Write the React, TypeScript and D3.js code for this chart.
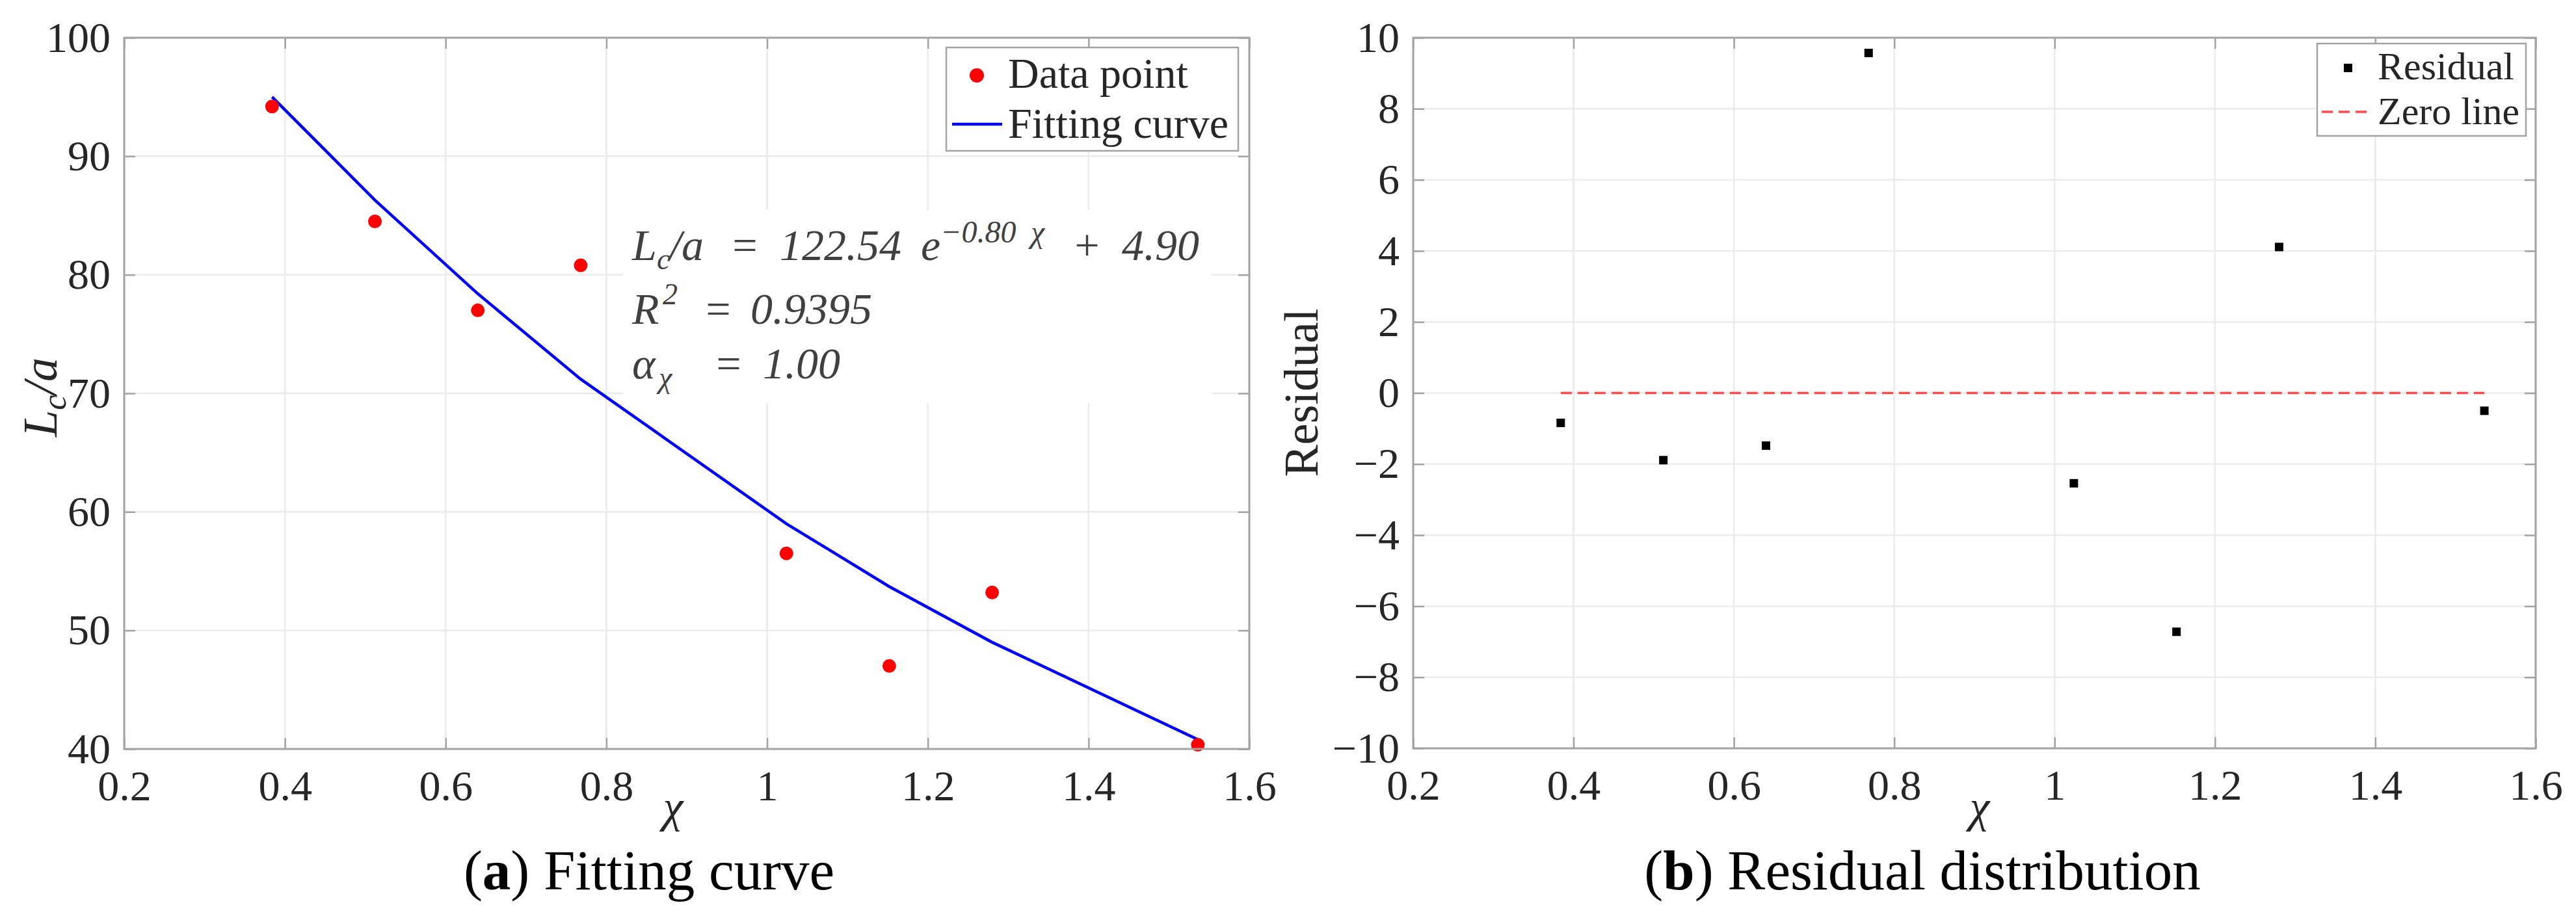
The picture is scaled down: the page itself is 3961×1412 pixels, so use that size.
import { useEffect, useRef } from 'react';
import {
  axisBottom,
  axisLeft,
  axisRight,
  axisTop,
  line,
  scaleLinear,
  select,
  Selection,
} from 'd3';

// chi values of the eight specimens
const chi = [0.384, 0.512, 0.64, 0.768, 1.024, 1.152, 1.28, 1.536];
// measured Lc/a
const lcOverA = [94.2, 84.5, 77.0, 80.8, 56.5, 47.0, 53.2, 40.35];
// fitted Lc/a
const fitted = [95.0, 86.3, 78.4, 71.2, 59.0, 53.7, 49.0, 40.8];
// residuals (panel b)
const residuals = [-0.84, -1.89, -1.48, 9.57, -2.54, -6.72, 4.11, -0.5];

const xTicks = [0.2, 0.4, 0.6, 0.8, 1, 1.2, 1.4, 1.6];
const yTicksA = [40, 50, 60, 70, 80, 90, 100];
const yTicksB = [-10, -8, -6, -4, -2, 0, 2, 4, 6, 8, 10];

const W = 3961;
const H = 1412;
const SERIF = 'Liberation Serif, Times New Roman, serif';
const TEXT = '#262626';
const FRAME = '#a3a3a3';
const GRID = '#ebebeb';

type G = Selection<SVGGElement, unknown, null, undefined>;

function drawFrame(
  g: G,
  x: d3.ScaleLinear<number, number>,
  y: d3.ScaleLinear<number, number>,
  yTicks: number[]
) {
  const [x0, x1] = x.range();
  const [y1, y0] = y.range();
  const inner = xTicks.slice(1, -1);
  const innerY = yTicks.slice(1, -1);

  // grid
  g.append('g')
    .selectAll('line')
    .data(inner)
    .join('line')
    .attr('x1', (d) => x(d))
    .attr('x2', (d) => x(d))
    .attr('y1', y0)
    .attr('y2', y1)
    .attr('stroke', GRID)
    .attr('stroke-width', 2.5);
  g.append('g')
    .selectAll('line')
    .data(innerY)
    .join('line')
    .attr('x1', x0)
    .attr('x2', x1)
    .attr('y1', (d) => y(d))
    .attr('y2', (d) => y(d))
    .attr('stroke', GRID)
    .attr('stroke-width', 2.5);

  const styleAxis = (a: G) => {
    a.attr('font-family', SERIF).attr('font-size', 66);
    a.select('.domain').remove();
    a.selectAll('.tick line').attr('stroke', FRAME).attr('stroke-width', 2.5);
    a.selectAll('.tick text').attr('fill', TEXT);
  };

  const fmt = (d: d3.NumberValue) => String(+(+d).toFixed(1)).replace('-', '\u2212');

  g.append('g')
    .attr('transform', `translate(0,${y1})`)
    .call(axisBottom(x).tickValues(xTicks).tickSize(-17).tickPadding(32).tickFormat(fmt))
    .call(styleAxis);
  g.append('g')
    .attr('transform', `translate(0,${y0})`)
    .call(axisTop(x).tickValues(xTicks).tickSize(-17).tickFormat(() => ''))
    .call(styleAxis);
  g.append('g')
    .attr('transform', `translate(${x0},0)`)
    .call(axisLeft(y).tickValues(yTicks).tickSize(-17).tickPadding(21).tickFormat(fmt))
    .call(styleAxis);
  g.append('g')
    .attr('transform', `translate(${x1},0)`)
    .call(axisRight(y).tickValues(yTicks).tickSize(-17).tickFormat(() => ''))
    .call(styleAxis);
}

function drawBox(g: G, x: d3.ScaleLinear<number, number>, y: d3.ScaleLinear<number, number>) {
  const [x0, x1] = x.range();
  const [y1, y0] = y.range();
  g.append('rect')
    .attr('x', x0)
    .attr('y', y0)
    .attr('width', x1 - x0)
    .attr('height', y1 - y0)
    .attr('fill', 'none')
    .attr('stroke', FRAME)
    .attr('stroke-width', 3);
}

export default function App() {
  const ref = useRef<SVGSVGElement>(null);

  useEffect(() => {
    document.body.style.margin = '0';
    const svg = select(ref.current);
    if (!ref.current) return;
    svg.selectAll('*').remove();

    svg.append('rect').attr('width', W).attr('height', H).attr('fill', 'white');

    // ---------- panel (a) ----------
    const xa = scaleLinear().domain([0.2, 1.6]).range([191, 1921]);
    const ya = scaleLinear().domain([40, 100]).range([1152, 58]);
    const ga = svg.append('g') as unknown as G;
    drawFrame(ga, xa, ya, yTicksA);

    // equation box (white background hides grid)
    ga.append('rect')
      .attr('x', 958)
      .attr('y', 323)
      .attr('width', 905)
      .attr('height', 297)
      .attr('fill', 'white');

    const eq = ga
      .append('text')
      .attr('fill', '#404040')
      .attr('font-family', SERIF)
      .attr('font-style', 'italic')
      .attr('font-size', 68);
    const part = (t: string, px: number, py: number, size = 68) =>
      eq.append('tspan').attr('x', px).attr('y', py).attr('font-size', size).text(t);
    part('L', 972, 400);
    part('c', 1010, 414, 46);
    part('/a', 1029, 400);
    part('=', 1122, 400);
    part('122.54', 1199, 400);
    part('e', 1416, 400);
    part('\u22120.80', 1446, 373, 48);
    part('\u03c7', 1585, 373, 48);
    part('+', 1648, 400);
    part('4.90', 1725, 400);
    part('R', 972, 498);
    part('2', 1019, 468, 46);
    part('=', 1081, 498);
    part('0.9395', 1154, 498);
    part('\u03b1', 972, 582);
    part('\u03c7', 1013, 596, 46);
    part('=', 1097, 582);
    part('1.00', 1173, 582);

    ga.append('path')
      .datum(chi.map((c, i) => [c, fitted[i]] as [number, number]))
      .attr('fill', 'none')
      .attr('stroke', '#0000ff')
      .attr('stroke-width', 4.5)
      .attr('d', line().x((d) => xa(d[0])).y((d) => ya(d[1])));

    ga.append('g')
      .selectAll('circle')
      .data(chi)
      .join('circle')
      .attr('cx', (d) => xa(d))
      .attr('cy', (_, i) => ya(lcOverA[i]))
      .attr('r', 10.5)
      .attr('fill', '#ff0000');

    drawBox(ga, xa, ya);

    // legend (a)
    const la = ga.append('g');
    la.append('rect')
      .attr('x', 1455)
      .attr('y', 73)
      .attr('width', 449)
      .attr('height', 159)
      .attr('fill', 'white')
      .attr('stroke', FRAME)
      .attr('stroke-width', 2.5);
    la.append('circle').attr('cx', 1502).attr('cy', 116).attr('r', 11).attr('fill', '#ff0000');
    la.append('line')
      .attr('x1', 1464)
      .attr('x2', 1541)
      .attr('y1', 191)
      .attr('y2', 191)
      .attr('stroke', '#0000ff')
      .attr('stroke-width', 4.5);
    la.selectAll('text')
      .data(['Data point', 'Fitting curve'])
      .join('text')
      .attr('x', 1550)
      .attr('y', (_, i) => [135, 212][i])
      .attr('fill', TEXT)
      .attr('font-family', SERIF)
      .attr('font-size', 66)
      .text((d) => d);

    // axis labels (a)
    const yl = ga
      .append('text')
      .attr('transform', 'translate(87,611) rotate(-90)')
      .attr('text-anchor', 'middle')
      .attr('fill', TEXT)
      .attr('font-family', SERIF)
      .attr('font-style', 'italic')
      .attr('font-size', 74);
    yl.append('tspan').text('L');
    yl.append('tspan').attr('dy', 14).attr('font-size', 52).text('c');
    yl.append('tspan').attr('dy', -14).text('/a');

    ga.append('text')
      .attr('x', 1035)
      .attr('y', 1264)
      .attr('text-anchor', 'middle')
      .attr('fill', TEXT)
      .attr('font-family', SERIF)
      .attr('font-style', 'italic')
      .attr('font-size', 70)
      .text('\u03c7');

    // ---------- panel (b) ----------
    const xb = scaleLinear().domain([0.2, 1.6]).range([2173, 3899]);
    const yb = scaleLinear().domain([-10, 10]).range([1151, 58]);
    const gb = svg.append('g') as unknown as G;
    drawFrame(gb, xb, yb, yTicksB);

    gb.append('line')
      .attr('x1', xb(chi[0]))
      .attr('x2', xb(chi[chi.length - 1]))
      .attr('y1', yb(0))
      .attr('y2', yb(0))
      .attr('stroke', '#ff4a4a')
      .attr('stroke-width', 3.5)
      .attr('stroke-dasharray', '17 9');

    gb.append('g')
      .selectAll('rect')
      .data(chi)
      .join('rect')
      .attr('x', (d) => xb(d) - 6.5)
      .attr('y', (_, i) => yb(residuals[i]) - 6.5)
      .attr('width', 13)
      .attr('height', 13)
      .attr('fill', '#000000');

    drawBox(gb, xb, yb);

    // legend (b)
    const lb = gb.append('g');
    lb.append('rect')
      .attr('x', 3563)
      .attr('y', 67)
      .attr('width', 321)
      .attr('height', 142)
      .attr('fill', 'white')
      .attr('stroke', FRAME)
      .attr('stroke-width', 2.5);
    lb.append('rect').attr('x', 3604).attr('y', 98).attr('width', 13).attr('height', 13).attr('fill', '#000');
    lb.append('line')
      .attr('x1', 3570)
      .attr('x2', 3641)
      .attr('y1', 172)
      .attr('y2', 172)
      .attr('stroke', '#ff4a4a')
      .attr('stroke-width', 3.5)
      .attr('stroke-dasharray', '17 9');
    lb.selectAll('text')
      .data(['Residual', 'Zero line'])
      .join('text')
      .attr('x', 3656)
      .attr('y', (_, i) => [122, 191][i])
      .attr('fill', TEXT)
      .attr('font-family', SERIF)
      .attr('font-size', 60)
      .text((d) => d);

    gb.append('text')
      .attr('transform', 'translate(2026,604) rotate(-90)')
      .attr('text-anchor', 'middle')
      .attr('fill', TEXT)
      .attr('font-family', SERIF)
      .attr('font-size', 74)
      .text('Residual');

    gb.append('text')
      .attr('x', 3044)
      .attr('y', 1264)
      .attr('text-anchor', 'middle')
      .attr('fill', TEXT)
      .attr('font-family', SERIF)
      .attr('font-style', 'italic')
      .attr('font-size', 70)
      .text('\u03c7');

    // ---------- captions ----------
    const captions = [
      { label: 'a', rest: ' Fitting curve', cx: 998 },
      { label: 'b', rest: ' Residual distribution', cx: 2956 },
    ];
    captions.forEach((c) => {
      const t = svg
        .append('text')
        .attr('x', c.cx)
        .attr('y', 1368)
        .attr('text-anchor', 'middle')
        .attr('fill', '#000')
        .attr('font-family', SERIF)
        .attr('font-size', 87);
      t.append('tspan').text('(');
      t.append('tspan').attr('font-weight', 'bold').text(c.label);
      t.append('tspan').text(')' + c.rest);
    });
  }, []);

  return <svg ref={ref} width={W} height={H} style={{ display: 'block' }} />;
}
